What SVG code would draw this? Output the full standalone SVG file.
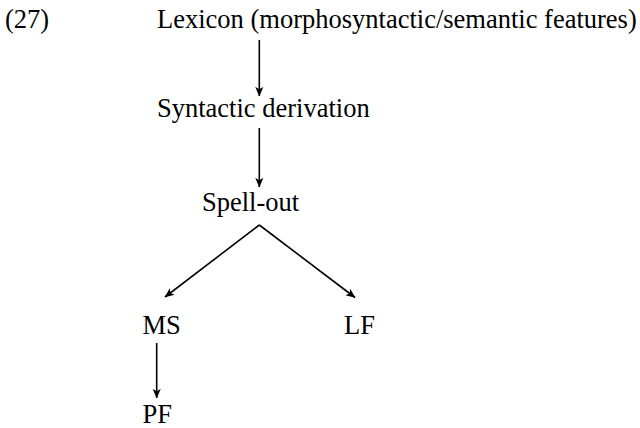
<svg xmlns="http://www.w3.org/2000/svg" width="640" height="428" viewBox="0 0 640 428">
<defs>
<style>
text{font-family:'Liberation Serif','DejaVu Serif',serif;font-size:26.5px;fill:#000}
.c line{stroke:#000;stroke-width:1.6;fill:none;marker-end:url(#ah)}
</style>
<marker id="ah" viewBox="0 0 10 10" refX="9.5" refY="5" markerWidth="6" markerHeight="6" markerUnits="strokeWidth" orient="auto">
<path d="M0,0.8 L10,5 L0,9.2 L2.5,5 Z" fill="#000"/>
</marker>
</defs>
<rect width="640" height="428" fill="#fff"/>
<g font-family="Liberation Serif, serif">
<g id="label"><text x="5" y="27.5">(27)</text></g>
<g id="lexicon"><text x="157" y="27.5">Lexicon (morphosyntactic/semantic features)</text></g>
<g id="syntactic"><text x="157" y="116.5">Syntactic derivation</text></g>
<g id="spellout"><text x="202" y="211">Spell-out</text></g>
<g id="ms"><text x="142.5" y="334">MS</text></g>
<g id="lf"><text x="344" y="334">LF</text></g>
<g id="pf"><text x="142.5" y="423">PF</text></g>
</g>
<g id="connectors" class="c">
<line x1="259.3" y1="40" x2="259.3" y2="96"/>
<line x1="259.3" y1="128" x2="259.3" y2="187"/>
<line x1="259.3" y1="225" x2="165" y2="297"/>
<line x1="259.3" y1="225" x2="355" y2="297.5"/>
<line x1="156.7" y1="343" x2="156.7" y2="398"/>
</g>
</svg>
